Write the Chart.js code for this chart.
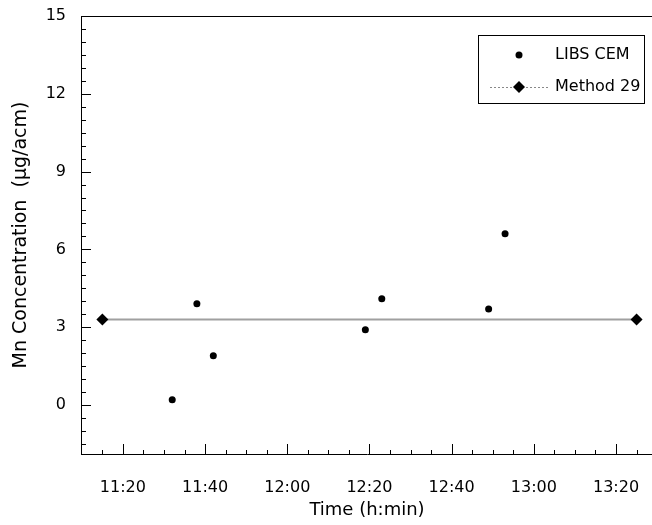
<!DOCTYPE html>
<html>
<head>
<meta charset="utf-8">
<script src="https://cdn.jsdelivr.net/npm/chart.js@4"></script>
<style>
  html, body { margin: 0; padding: 0; background: #fff; overflow: hidden; }
</style>
</head>
<body>
<canvas id="mnChart" width="659" height="525"></canvas>
<script>
// LIBS CEM measurements
const libsTimes = ['11:32', '11:38', '11:42', '12:19', '12:23', '12:49', '12:53'];
const libsValues = [0.2, 3.9, 1.9, 2.9, 4.1, 3.7, 6.6];

// Method 29 reference (start and end of the run)
const methodTimes = ['11:15', '13:25'];
const methodValues = [3.3, 3.3];

// axis ticks
const timeTicks = ['11:20', '11:40', '12:00', '12:20', '12:40', '13:00', '13:20'];
const concTicks = [0, 3, 6, 9, 12, 15];

const FONT = 'DejaVu Sans';

function toMin(s) {
    const [h, m] = s.split(':').map(Number);
    return h * 60 + m;
}
function fmtMin(v) {
    const h = Math.floor(v / 60);
    const m = Math.round(v - h * 60);
    return h + ':' + String(m).padStart(2, '0');
}

// ticks pointing into the plot, plus the top frame line
const frameTicks = {
    id: 'frameTicks',
    afterDatasetsDraw(chart) {
        const { ctx, chartArea: a, scales: { x, y } } = chart;
        ctx.save();
        ctx.strokeStyle = '#000';
        ctx.lineWidth = 1;
        ctx.beginPath();
        for (let v = -1.5; v <= 15.001; v += 0.5) {
            const py = Math.round(y.getPixelForValue(v)) + 0.5;
            const len = Math.abs(v % 3) < 0.001 ? 10 : 5;
            ctx.moveTo(a.left, py);
            ctx.lineTo(a.left + len, py);
        }
        for (let v = 675; v <= x.max; v += 5) {
            const px = Math.round(x.getPixelForValue(v)) + 0.5;
            const len = (v - 680) % 20 === 0 ? 10 : 4;
            ctx.moveTo(px, a.bottom);
            ctx.lineTo(px, a.bottom - len);
        }
        ctx.moveTo(a.left, a.top + 0.5);
        ctx.lineTo(a.right, a.top + 0.5);
        ctx.stroke();
        ctx.restore();
    }
};

// boxed legend in the upper right corner
const boxLegend = {
    id: 'boxLegend',
    afterDraw(chart) {
        const { ctx } = chart;
        const bx = 478, by = 35, bw = 166, bh = 68;
        ctx.save();
        ctx.fillStyle = '#fff';
        ctx.fillRect(bx, by, bw, bh);
        ctx.strokeStyle = '#000';
        ctx.lineWidth = 1;
        ctx.strokeRect(bx + 0.5, by + 0.5, bw, bh);

        const mx = 519, y1 = 55, y2 = 87;
        ctx.fillStyle = '#000';
        ctx.beginPath();
        ctx.arc(mx, y1, 3.5, 0, Math.PI * 2);
        ctx.fill();

        ctx.strokeStyle = '#888';
        ctx.setLineDash([2, 2]);
        ctx.beginPath();
        ctx.moveTo(490, y2 + 0.5);
        ctx.lineTo(548, y2 + 0.5);
        ctx.stroke();
        ctx.setLineDash([]);
        ctx.beginPath();
        ctx.moveTo(mx, y2 - 6);
        ctx.lineTo(mx + 6, y2);
        ctx.lineTo(mx, y2 + 6);
        ctx.lineTo(mx - 6, y2);
        ctx.closePath();
        ctx.fill();

        ctx.font = '16px "' + FONT + '"';
        ctx.textBaseline = 'middle';
        ctx.fillText('LIBS CEM', 555, y1);
        ctx.fillText('Method 29', 555, y2);
        ctx.restore();
    }
};

new Chart(document.getElementById('mnChart'), {
    type: 'scatter',
    data: {
        datasets: [
            {
                label: 'LIBS CEM',
                data: libsTimes.map((t, i) => ({ x: toMin(t), y: libsValues[i] })),
                pointStyle: 'circle',
                pointRadius: 3.5,
                pointBackgroundColor: '#000',
                pointBorderColor: '#000',
                pointBorderWidth: 0,
                showLine: false
            },
            {
                label: 'Method 29',
                data: methodTimes.map((t, i) => ({ x: toMin(t), y: methodValues[i] })),
                showLine: true,
                borderColor: '#a0a0a0',
                borderWidth: 2,
                pointStyle: 'rectRot',
                pointRadius: 6,
                pointBackgroundColor: '#000',
                pointBorderColor: '#000',
                pointBorderWidth: 0
            }
        ]
    },
    options: {
        responsive: false,
        animation: false,
        layout: { padding: { top: 16, right: 0, bottom: 0, left: 0 } },
        plugins: {
            legend: { display: false },
            tooltip: { enabled: false }
        },
        scales: {
            x: {
                type: 'linear',
                min: 669.8,
                max: 809,
                grid: { display: false, drawTicks: false },
                border: { display: true, color: '#000', width: 1 },
                afterBuildTicks: s => { s.ticks = timeTicks.map(t => ({ value: toMin(t) })); },
                afterFit: s => { s.height = 71; s.paddingLeft = 0; s.paddingRight = 0; },
                ticks: {
                    color: '#000',
                    padding: 24,
                    maxRotation: 0,
                    font: { family: FONT, size: 16 },
                    callback: v => fmtMin(v)
                },
                title: {
                    display: true,
                    text: 'Time (h:min)',
                    color: '#000',
                    font: { family: FONT, size: 18 },
                    padding: { top: 0, bottom: 4 }
                }
            },
            y: {
                min: -1.89,
                max: 15,
                grid: { display: false, drawTicks: false },
                border: { display: true, color: '#000', width: 1 },
                afterBuildTicks: s => { s.ticks = concTicks.map(v => ({ value: v })); },
                afterFit: s => { s.width = 81; s.paddingTop = 0; s.paddingBottom = 0; },
                ticks: {
                    color: '#000',
                    padding: 15,
                    font: { family: FONT, size: 16 }
                },
                title: {
                    display: true,
                    text: 'Mn Concentration  (\u03BCg/acm)',
                    color: '#000',
                    font: { family: FONT, size: 19 },
                    padding: { top: 10, bottom: 0 }
                }
            }
        }
    },
    plugins: [frameTicks, boxLegend]
});
</script>
</body>
</html>
